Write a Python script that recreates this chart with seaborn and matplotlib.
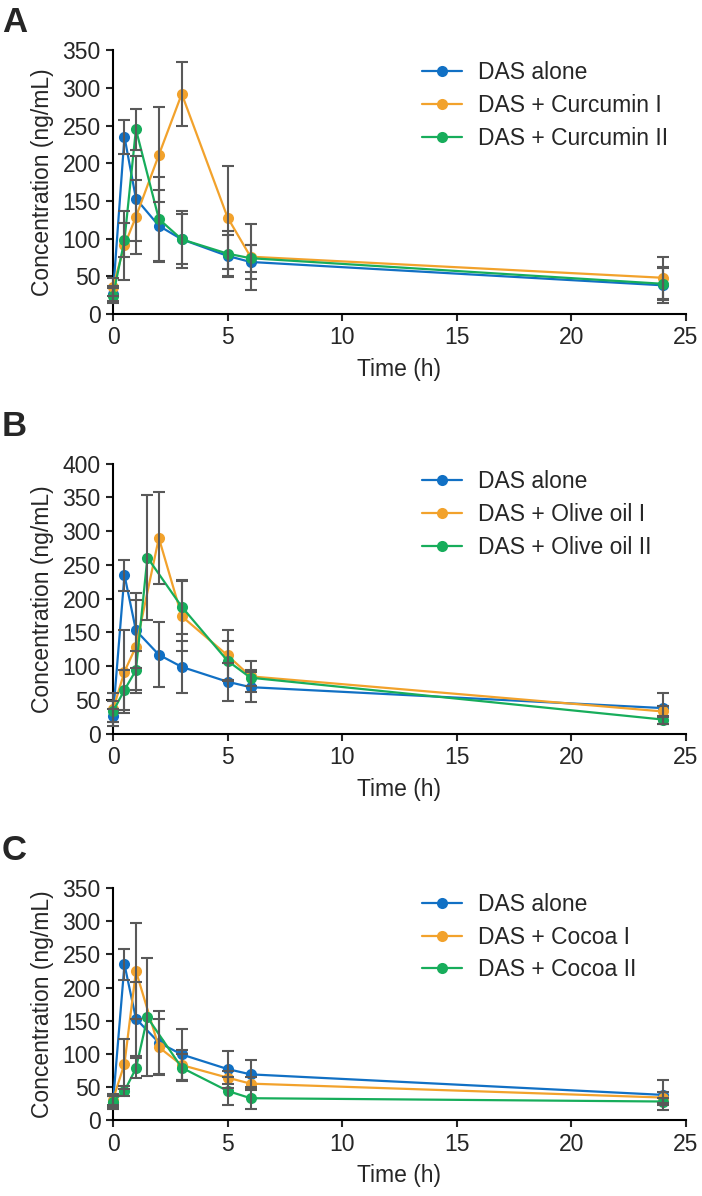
import numpy as np
import pandas as pd
import matplotlib
matplotlib.use("Agg")
import matplotlib.pyplot as plt
import seaborn as sns

# sampling times (h)
T_STD = [0, 0.5, 1, 2, 3, 5, 6, 24]
T_ALT = [0, 0.5, 1, 1.5, 3, 5, 6, 24]

# DAS alone (same reference group in every panel)
das_mean = [27, 235, 153, 117, 99, 77, 69, 38]
das_sd = [10, 23, 56, 48, 38, 28, 22, 23]

# panel A
cur1_mean = [36, 91, 129, 211, 292, 128, 76, 48]
cur1_sd = [12, 46, 49, 63, 42, 69, 44, 28]
cur2_mean = [24, 98, 245, 126, 99, 80, 74, 40]
cur2_sd = [10, 23, 27, 56, 33, 30, 18, 22]

# panel B
olv1_mean = [36, 92, 129, 290, 174, 116, 85, 33]
olv1_sd = [25, 61, 69, 68, 52, 37, 23, 8]
olv2_mean = [33, 65, 94, 261, 188, 108, 83, 21]
olv2_sd = [15, 30, 29, 93, 40, 30, 12, 6]

# panel C
coc1_mean = [31, 85, 225, 110, 83, 64, 55, 34]
coc1_sd = [8, 38, 73, 42, 23, 10, 10, 8]
coc2_mean = [28, 44, 78, 155, 79, 44, 33, 28]
coc2_sd = [8, 8, 15, 89, 20, 21, 17, 6]

colors = ["#1170C4", "#F2A22C", "#17AD5B"]
err_color = "#595959"

panels = [
    ("A", ["DAS alone", "DAS + Curcumin I", "DAS + Curcumin II"],
     [(T_STD, das_mean, das_sd), (T_STD, cur1_mean, cur1_sd), (T_STD, cur2_mean, cur2_sd)],
     350, [0.161, 0.7375, 0.816, 0.2205], 0.958),
    ("B", ["DAS alone", "DAS + Olive oil I", "DAS + Olive oil II"],
     [(T_STD, das_mean, das_sd), (T_STD, olv1_mean, olv1_sd), (T_ALT, olv2_mean, olv2_sd)],
     400, [0.161, 0.3865, 0.816, 0.2258], 0.975),
    ("C", ["DAS alone", "DAS + Cocoa I", "DAS + Cocoa II"],
     [(T_STD, das_mean, das_sd), (T_STD, coc1_mean, coc1_sd), (T_ALT, coc2_mean, coc2_sd)],
     350, [0.161, 0.0635, 0.816, 0.1938], 0.98),
]

sns.set_style("ticks")
plt.rcParams["font.family"] = ["Liberation Sans", "DejaVu Sans"]
plt.rcParams["font.size"] = 16

fig = plt.figure(figsize=(7.02, 11.96), dpi=100)

for letter, names, series, ymax, rect, leg_y in panels:
    ax = fig.add_axes(rect)
    rows = []
    for name, (t, m, s) in zip(names, series):
        for ti, mi, si in zip(t, m, s):
            rows.append({"time": ti, "conc": mi, "sd": si, "group": name})
    df = pd.DataFrame(rows)

    sns.lineplot(data=df, x="time", y="conc", hue="group", hue_order=names,
                 palette=colors, marker="o", markersize=8, markeredgewidth=0,
                 linewidth=1.6, ax=ax, clip_on=False, zorder=3)
    for name in names:
        sub = df[df["group"] == name]
        ax.errorbar(sub["time"], sub["conc"], yerr=sub["sd"], fmt="none",
                    ecolor=err_color, elinewidth=1.5, capsize=4, capthick=1.5,
                    zorder=4, clip_on=False)

    handles, labels = ax.get_legend_handles_labels()
    ax.legend(handles=handles, labels=labels, loc="upper left",
              bbox_to_anchor=(0.539, leg_y), frameon=False, borderpad=0,
              borderaxespad=0, handlelength=1.75, handletextpad=0.7,
              labelspacing=0.42, fontsize=16.5)

    ax.set_xlim(0, 25)
    ax.set_ylim(0, ymax)
    ax.set_xticks(range(0, 26, 5))
    ax.set_yticks(range(0, ymax + 1, 50))
    ax.set_xlabel("Time (h)", fontsize=16.5, labelpad=6)
    ax.set_ylabel("Concentration (ng/mL)", fontsize=16.5, labelpad=6)
    ax.tick_params(direction="out", length=5, width=1.5, labelsize=16.5, pad=4)
    for side in ["left", "bottom"]:
        ax.spines[side].set_linewidth(1.5)
        ax.spines[side].set_color("black")
    sns.despine(ax=ax)

    top = rect[1] + rect[3]
    fig.text(0.003, top + (0.037 if letter == "A" else 0.045), letter,
             fontsize=25, fontweight="bold", va="top", ha="left")

fig.savefig("out.png", dpi=100)
